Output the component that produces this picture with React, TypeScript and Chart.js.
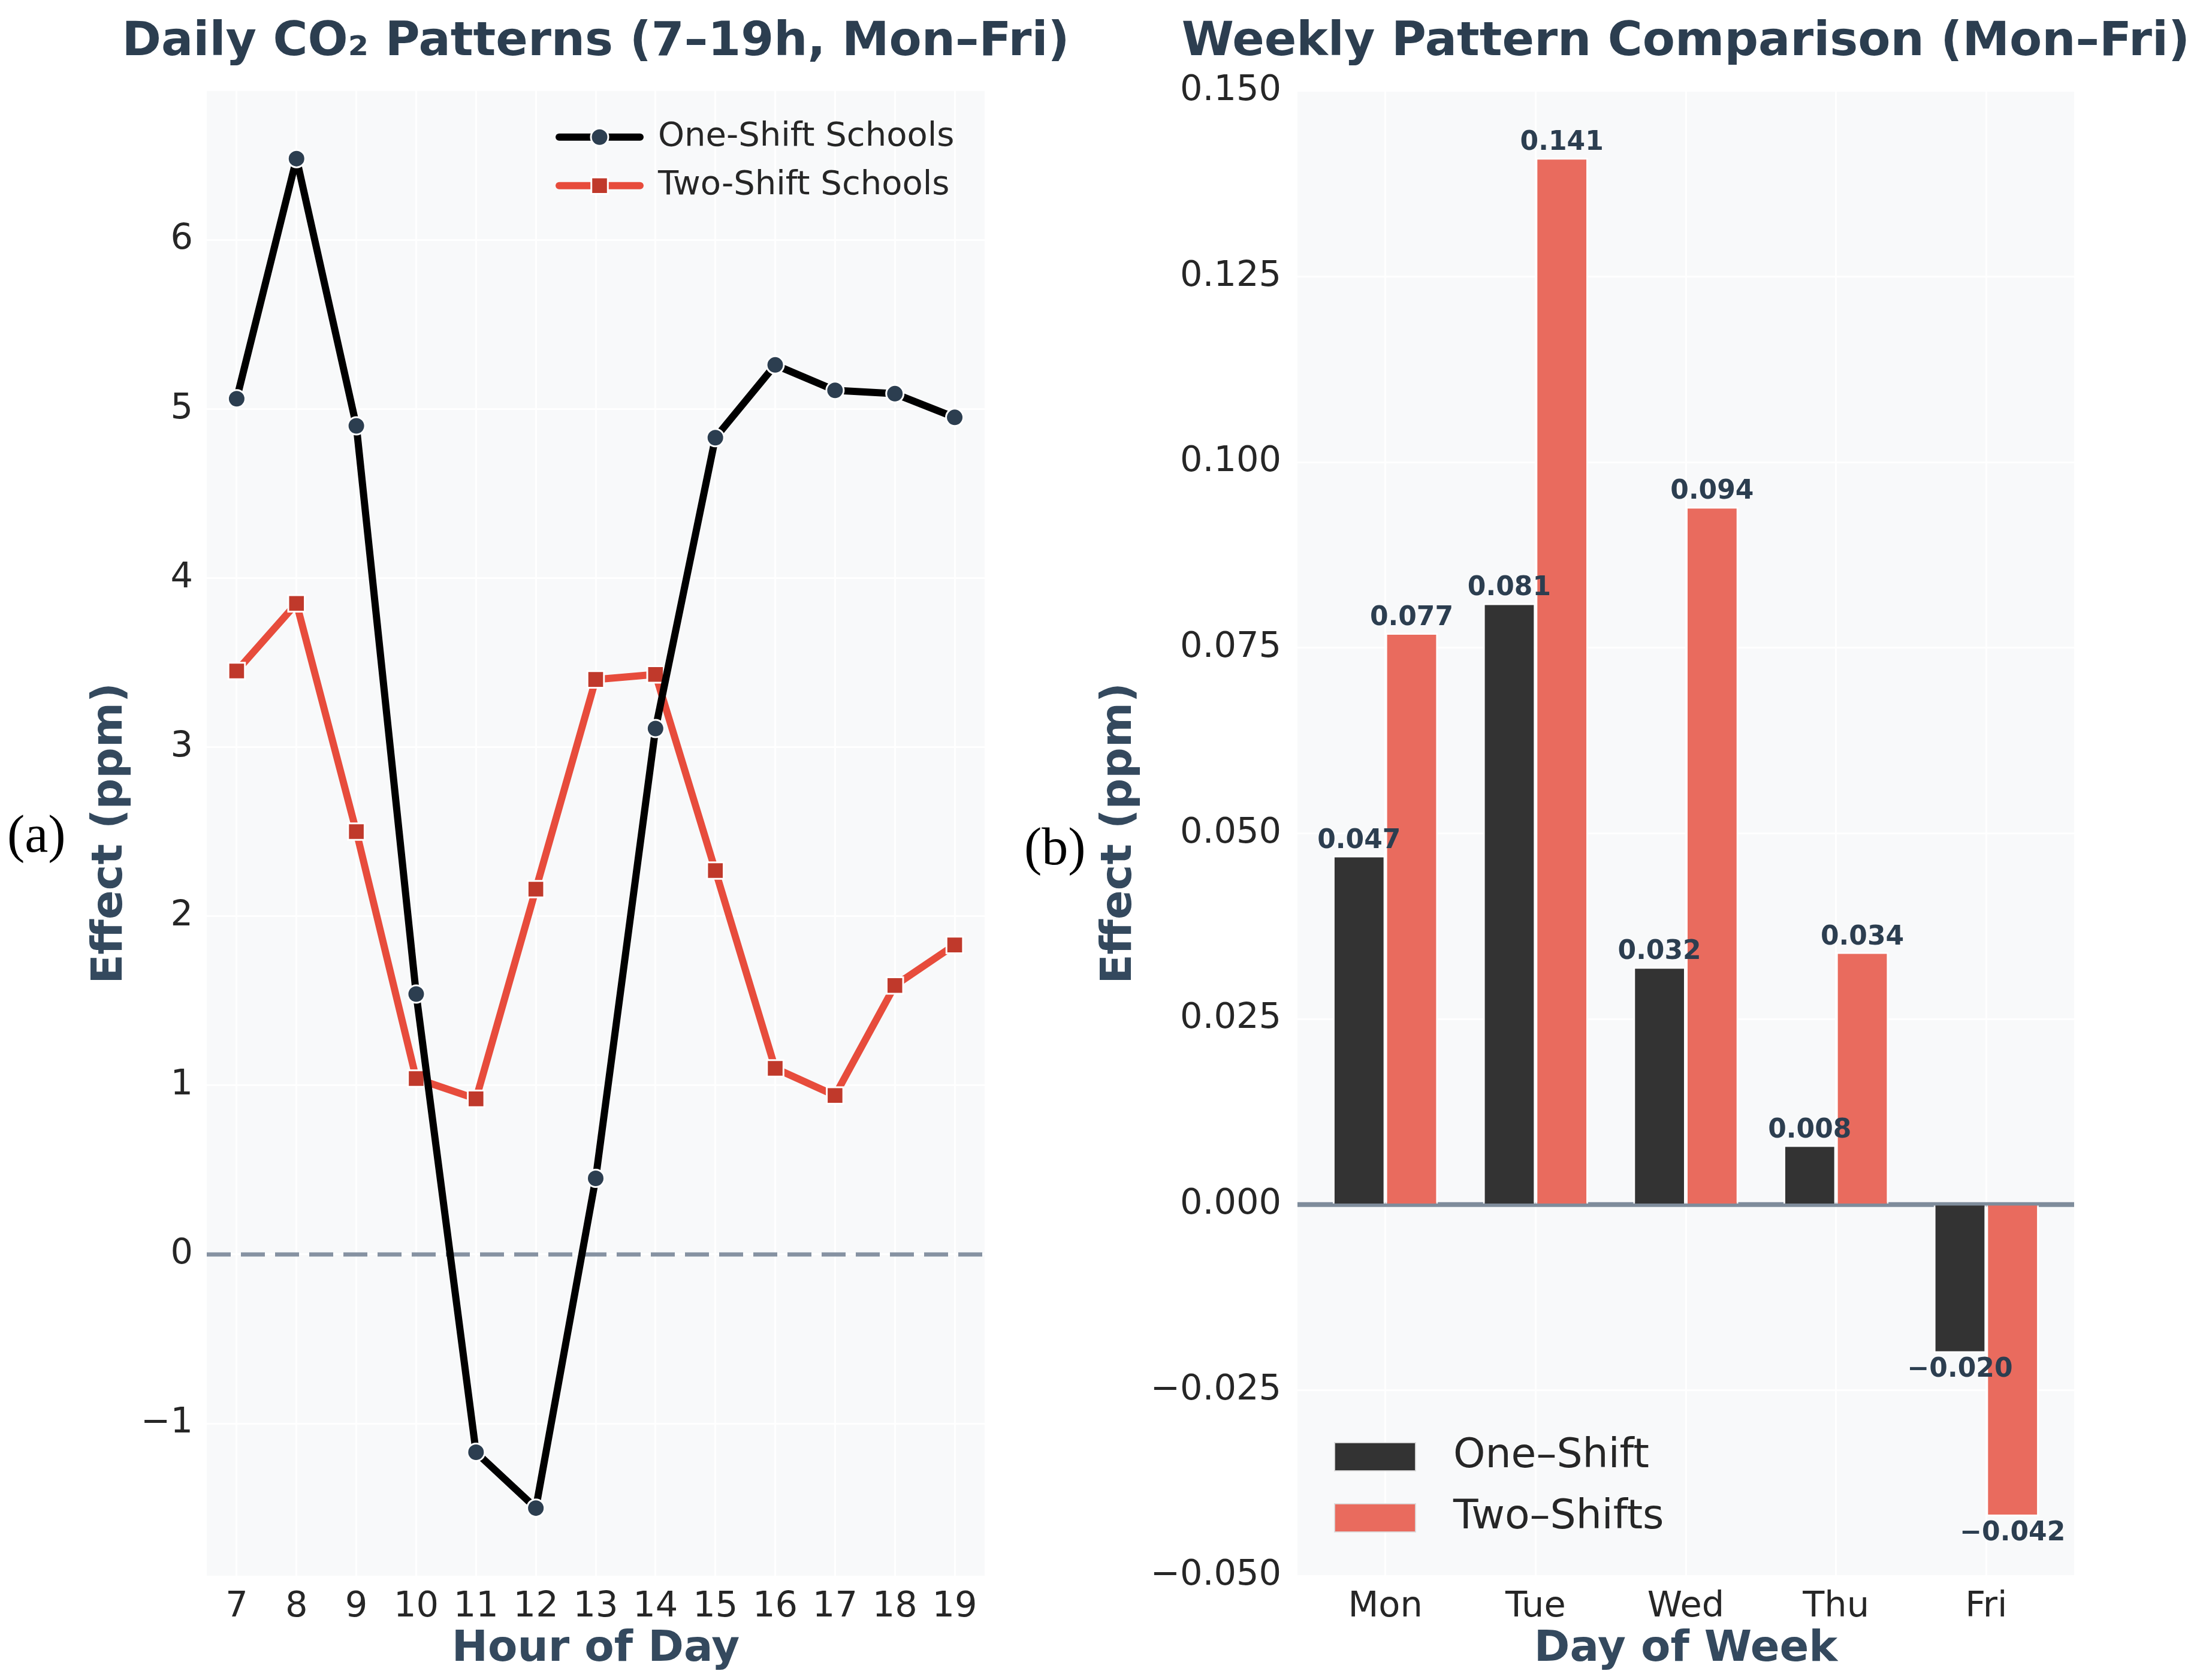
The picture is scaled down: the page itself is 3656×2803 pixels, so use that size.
import { useEffect, useRef } from 'react'
import { Chart, registerables } from 'chart.js'

Chart.register(...registerables)
Chart.defaults.font.family = '"DejaVu Sans", sans-serif'

// ---- data ----
const hours = [7, 8, 9, 10, 11, 12, 13, 14, 15, 16, 17, 18, 19]
const oneShiftHourly = [5.06, 6.48, 4.9, 1.54, -1.17, -1.5, 0.45, 3.11, 4.83, 5.26, 5.11, 5.09, 4.95]
const twoShiftHourly = [3.45, 3.85, 2.5, 1.04, 0.92, 2.16, 3.4, 3.43, 2.27, 1.1, 0.94, 1.59, 1.83]
const hourlyTicks = [-1, 0, 1, 2, 3, 4, 5, 6]

const days = ['Mon', 'Tue', 'Wed', 'Thu', 'Fri']
const oneShiftWeekly = [0.047, 0.081, 0.032, 0.008, -0.02]
const twoShiftWeekly = [0.077, 0.141, 0.094, 0.034, -0.042]
const weeklyTicks = [-0.05, -0.025, 0, 0.025, 0.05, 0.075, 0.1, 0.125, 0.15]

const MINUS = '\u2212'
const TICK_COLOR = '#262626'
const TITLE_COLOR = '#2c3e50'
const AXIS_TITLE_COLOR = '#34495e'

// plot background
const plotBg = {
  id: 'plotBg',
  beforeDraw(chart) {
    const { ctx, chartArea: a } = chart
    ctx.save()
    ctx.fillStyle = '#f8f9fa'
    ctx.fillRect(a.left, a.top, a.right - a.left, a.bottom - a.top)
    ctx.restore()
  },
}

// horizontal reference line at 0
const zeroLine = {
  id: 'zeroLine',
  beforeDatasetsDraw(chart, _args, opts) {
    const { ctx, chartArea: a } = chart
    const y = chart.scales.y.getPixelForValue(0)
    ctx.save()
    ctx.strokeStyle = opts.color
    ctx.lineWidth = opts.width
    ctx.setLineDash(opts.dash || [])
    ctx.beginPath()
    ctx.moveTo(a.left, y)
    ctx.lineTo(a.right, y)
    ctx.stroke()
    ctx.restore()
  },
}

// line + marker legend, top right inside the plot
const hourlyLegend = {
  id: 'hourlyLegend',
  afterDatasetsDraw(chart) {
    const { ctx, chartArea: a } = chart
    ctx.save()
    chart.data.datasets.forEach((ds, i) => {
      const y = a.top + 77 + i * 81
      const x0 = a.right - 710
      const x1 = x0 + 135
      ctx.setLineDash([])
      ctx.strokeStyle = ds.borderColor
      ctx.lineWidth = ds.borderWidth
      ctx.lineCap = 'round'
      ctx.beginPath()
      ctx.moveTo(x0, y)
      ctx.lineTo(x1, y)
      ctx.stroke()
      const cx = (x0 + x1) / 2
      ctx.fillStyle = ds.pointBackgroundColor
      ctx.strokeStyle = ds.pointBorderColor
      ctx.lineWidth = ds.pointBorderWidth
      ctx.beginPath()
      if (ds.pointStyle === 'rect') {
        const h = ds.pointRadius * Math.SQRT1_2
        ctx.rect(cx - h, y - h, 2 * h, 2 * h)
      } else {
        ctx.arc(cx, y, ds.pointRadius, 0, Math.PI * 2)
      }
      ctx.fill()
      ctx.stroke()
      ctx.fillStyle = TICK_COLOR
      ctx.font = '56px "DejaVu Sans"'
      ctx.textBaseline = 'middle'
      ctx.textAlign = 'left'
      ctx.fillText(ds.label, x1 + 30, y)
    })
    ctx.restore()
  },
}

// patch legend, bottom left inside the plot
const weeklyLegend = {
  id: 'weeklyLegend',
  afterDatasetsDraw(chart) {
    const { ctx, chartArea: a } = chart
    ctx.save()
    chart.data.datasets.forEach((ds, i) => {
      const y = a.bottom - 199 + i * 102
      const x = a.left + 62
      ctx.fillStyle = ds.backgroundColor
      ctx.fillRect(x, y - 23, 135, 47)
      ctx.strokeStyle = 'rgba(220,220,220,0.9)'
      ctx.lineWidth = 2
      ctx.strokeRect(x, y - 23, 135, 47)
      ctx.fillStyle = TICK_COLOR
      ctx.font = '68px "DejaVu Sans"'
      ctx.textBaseline = 'middle'
      ctx.textAlign = 'left'
      ctx.fillText(ds.label, a.left + 260, y)
    })
    ctx.restore()
  },
}

const fmt3 = (v: number) => (v < 0 ? MINUS : '') + Math.abs(v).toFixed(3)

// value labels on bars
const barLabels = {
  id: 'barLabels',
  afterDatasetsDraw(chart) {
    const { ctx } = chart
    ctx.save()
    ctx.font = 'bold 44px "DejaVu Sans"'
    ctx.fillStyle = TITLE_COLOR
    ctx.textAlign = 'center'
    ctx.textBaseline = 'alphabetic'
    chart.data.datasets.forEach((ds, di) => {
      const meta = chart.getDatasetMeta(di)
      meta.data.forEach((el, i) => {
        const v = ds.data[i].y
        const y = v >= 0 ? el.y - 13 : el.y + 40
        ctx.fillText(fmt3(v), el.x, y)
      })
    })
    ctx.restore()
  },
}

const titleOpts = (text: string) => ({
  display: true,
  text,
  color: TITLE_COLOR,
  font: { size: 79, weight: 'bold' },
  padding: { top: 24, bottom: 33 },
})

const axisTitle = (text: string, padding) => ({
  display: true,
  text,
  color: AXIS_TITLE_COLOR,
  font: { size: 72, weight: 'bold' },
  padding,
})

const gridOpts = { color: '#ffffff', lineWidth: 3, drawTicks: false }

// empty right-hand axis that only reserves room, so the title is centred on the plot
const spacerAxis = (width: number) => ({
  position: 'right',
  display: true,
  ticks: { display: false },
  grid: { display: false, drawTicks: false },
  border: { display: false },
  afterFit: (s) => {
    s.width = width
  },
})

const HourlyChart = () => {
  const canvasRef = useRef<HTMLCanvasElement | null>(null)
  const chartRef = useRef<Chart | null>(null)

  useEffect(() => {
    const ctx = canvasRef.current?.getContext('2d')
    chartRef.current = new Chart(ctx, {
      type: 'line',
      data: {
        datasets: [
          {
            label: 'One-Shift Schools',
            data: hours.map((h, i) => ({ x: h, y: oneShiftHourly[i] })),
            borderColor: '#000000',
            borderWidth: 12,
            borderJoinStyle: 'round',
            borderCapStyle: 'round',
            pointStyle: 'circle',
            pointRadius: 14.5,
            pointBackgroundColor: '#2c3e50',
            pointBorderColor: '#ffffff',
            pointBorderWidth: 3,
            tension: 0,
          },
          {
            label: 'Two-Shift Schools',
            data: hours.map((h, i) => ({ x: h, y: twoShiftHourly[i] })),
            borderColor: '#e74c3c',
            borderWidth: 12,
            borderJoinStyle: 'round',
            borderCapStyle: 'round',
            pointStyle: 'rect',
            pointRadius: 19.5,
            pointBackgroundColor: '#c0392b',
            pointBorderColor: '#ffffff',
            pointBorderWidth: 3,
            tension: 0,
          },
        ],
      },
      options: {
        animation: false,
        responsive: false,
        devicePixelRatio: 1,
        layout: { padding: { left: 120, right: 120, top: 0, bottom: 0 } },
        scales: {
          x: {
            type: 'linear',
            min: 6.5,
            max: 19.5,
            afterBuildTicks: (axis) => {
              axis.ticks = hours.map((h) => ({ value: h }))
            },
            afterFit: (s) => {
              s.height = 174
            },
            ticks: { color: TICK_COLOR, font: { size: 59 }, padding: 17, callback: (v) => String(v) },
            grid: gridOpts,
            border: { display: false },
            title: axisTitle('Hour of Day', { top: 0, bottom: 8 }),
          },
          y: {
            type: 'linear',
            position: 'left',
            min: -1.9,
            max: 6.88,
            afterBuildTicks: (axis) => {
              axis.ticks = hourlyTicks.map((v) => ({ value: v }))
            },
            afterFit: (s) => {
              s.width = 225
            },
            ticks: {
              color: TICK_COLOR,
              font: { size: 59 },
              padding: 23,
              callback: (v) => (v < 0 ? MINUS + Math.abs(v) : String(v)),
            },
            grid: gridOpts,
            border: { display: false },
            title: axisTitle('Effect (ppm)', { top: 21, bottom: 0 }),
          },
          spacer: spacerAxis(225),
        },
        plugins: {
          legend: { display: false },
          tooltip: { enabled: false },
          title: titleOpts('Daily CO\u2082 Patterns (7\u201319h, Mon\u2013Fri)'),
          zeroLine: { color: 'rgba(127,140,157,0.95)', width: 7, dash: [40, 17] },
        },
      },
      plugins: [plotBg, zeroLine, hourlyLegend],
    })
    return () => chartRef.current?.destroy()
  }, [])

  return (
    <canvas
      ref={canvasRef}
      width={1988}
      height={2803}
      style={{ position: 'absolute', left: 0, top: 0, width: 1988, height: 2803 }}
    />
  )
}

const WeeklyChart = () => {
  const canvasRef = useRef<HTMLCanvasElement | null>(null)
  const chartRef = useRef<Chart | null>(null)

  useEffect(() => {
    const ctx = canvasRef.current?.getContext('2d')
    chartRef.current = new Chart(ctx, {
      type: 'bar',
      data: {
        datasets: [
          {
            label: 'One\u2013Shift',
            data: days.map((_, i) => ({ x: i, y: oneShiftWeekly[i] })),
            backgroundColor: '#333333',
            borderColor: 'rgba(255,255,255,0.85)',
            borderWidth: 3,
          },
          {
            label: 'Two\u2013Shifts',
            data: days.map((_, i) => ({ x: i, y: twoShiftWeekly[i] })),
            backgroundColor: '#e96b5e',
            borderColor: 'rgba(255,255,255,0.85)',
            borderWidth: 3,
          },
        ],
      },
      options: {
        animation: false,
        responsive: false,
        devicePixelRatio: 1,
        datasets: { bar: { categoryPercentage: 0.7, barPercentage: 1 } },
        layout: { padding: { left: 0, right: 0, top: 0, bottom: 0 } },
        scales: {
          x: {
            type: 'linear',
            offset: false,
            min: -0.585,
            max: 4.585,
            afterBuildTicks: (axis) => {
              axis.ticks = days.map((_, i) => ({ value: i }))
            },
            afterFit: (s) => {
              s.height = 174
            },
            ticks: {
              color: TICK_COLOR,
              font: { size: 59 },
              padding: 17,
              callback: (v) => days[Math.round(v)] ?? '',
            },
            grid: { ...gridOpts, offset: false },
            border: { display: false },
            title: axisTitle('Day of Week', { top: 0, bottom: 8 }),
          },
          y: {
            type: 'linear',
            position: 'left',
            min: -0.05,
            max: 0.15,
            afterBuildTicks: (axis) => {
              axis.ticks = weeklyTicks.map((v) => ({ value: v }))
            },
            afterFit: (s) => {
              s.width = 365
            },
            ticks: { color: TICK_COLOR, font: { size: 59 }, padding: 27, callback: (v) => fmt3(v) },
            grid: gridOpts,
            border: { display: false },
            title: axisTitle('Effect (ppm)', { top: 25, bottom: 0 }),
          },
          spacer: spacerAxis(365),
        },
        plugins: {
          legend: { display: false },
          tooltip: { enabled: false },
          title: titleOpts('Weekly Pattern Comparison (Mon\u2013Fri)'),
          zeroLine: { color: '#7f8c9b', width: 8, dash: [] },
        },
      },
      plugins: [plotBg, zeroLine, barLabels, weeklyLegend],
    })
    return () => chartRef.current?.destroy()
  }, [])

  return (
    <canvas
      ref={canvasRef}
      width={2026}
      height={2803}
      style={{ position: 'absolute', left: 1800, top: 0, width: 2026, height: 2803 }}
    />
  )
}

const panelLabel = {
  position: 'absolute' as const,
  fontFamily: '"Liberation Serif", "Times New Roman", serif',
  fontSize: 88,
  lineHeight: 1,
  color: '#000',
}

export default function App() {
  return (
    <div
      style={{
        position: 'absolute',
        left: 0,
        top: 0,
        width: 3656,
        height: 2803,
        overflow: 'hidden',
        background: '#ffffff',
      }}
    >
      <HourlyChart />
      <WeeklyChart />
      <div style={{ ...panelLabel, left: 12, top: 1348 }}>(a)</div>
      <div style={{ ...panelLabel, left: 1709, top: 1369 }}>(b)</div>
    </div>
  )
}
